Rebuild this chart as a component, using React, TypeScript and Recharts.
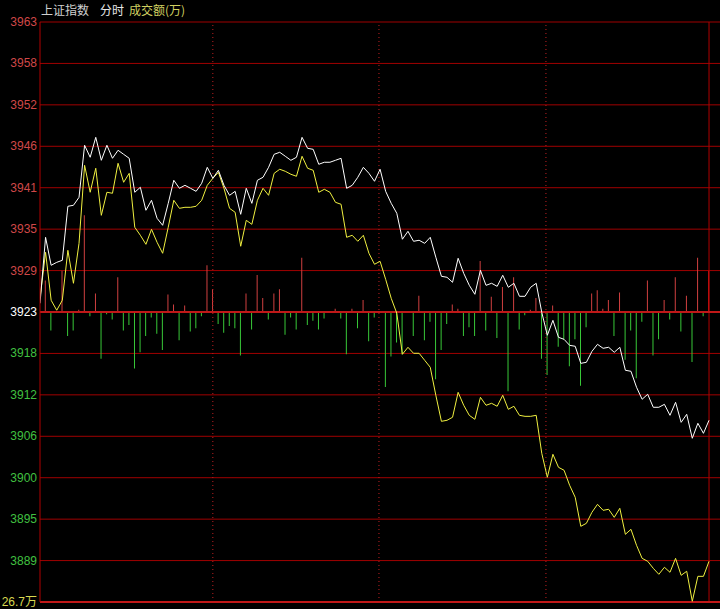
import React from "react";
import { ComposedChart, Line, Bar, Cell, XAxis, YAxis, CartesianGrid, ReferenceLine } from "recharts";

// 2-minute samples, 09:30 -> 15:00 (121 points)
const weightedIndex = [
  3924.55, 3933.68, 3929.81, 3930.22, 3930.5, 3937.97, 3938.11, 3939.21, 3946.41, 3944.75,
  3947.51, 3944.33, 3946.41, 3944.61, 3945.72, 3945.16, 3944.61, 3939.91, 3940.6, 3937.42,
  3938.8, 3936.31, 3935.34, 3938.38, 3941.57, 3940.46, 3940.87, 3940.46, 3940.04, 3941.15,
  3943.36, 3941.84, 3942.95, 3940.87, 3939.49, 3940.04, 3936.86, 3940.46, 3938.38, 3941.57,
  3941.98, 3943.36, 3945.16, 3945.44, 3944.89, 3944.33, 3944.75, 3947.51, 3945.99, 3945.85,
  3943.78, 3944.06, 3944.06, 3944.33, 3944.61, 3940.46, 3940.87, 3941.98, 3943.36, 3942.53,
  3941.43, 3943.09, 3940.04, 3938.38, 3937.0, 3933.41, 3934.51, 3933.13, 3933.27, 3932.85,
  3933.68, 3930.92, 3928.29, 3928.15, 3927.46, 3930.78, 3928.7, 3927.04, 3925.8, 3929.12,
  3927.04, 3927.32, 3926.9, 3928.43, 3926.77, 3927.32, 3925.52, 3925.52, 3926.77, 3927.32,
  3923.31, 3920.13, 3922.2, 3919.85, 3919.57, 3918.74, 3918.61, 3916.25, 3916.39, 3917.91,
  3918.88, 3918.33, 3918.47, 3917.78, 3918.47, 3915.29, 3915.15, 3912.94, 3911.28, 3911.97,
  3910.17, 3910.17, 3910.58, 3909.06, 3910.86, 3908.09, 3909.2, 3905.88, 3907.96, 3906.57,
  3908.37,
];

const equalIndex = [
  3925.24, 3931.61, 3924.97, 3923.59, 3924.97, 3931.88, 3927.32, 3932.85, 3943.64, 3939.91,
  3943.23, 3936.72, 3939.91, 3939.77, 3943.92, 3941.29, 3942.53, 3935.07, 3933.96, 3932.71,
  3934.79, 3932.99, 3931.47, 3935.07, 3938.8, 3937.69, 3937.83, 3937.83, 3937.97, 3938.8,
  3940.87, 3941.84, 3942.67, 3940.46, 3937.69, 3937.14, 3932.44, 3936.03, 3935.48, 3938.8,
  3940.46, 3939.49, 3942.53, 3943.09, 3942.81, 3942.4, 3942.12, 3944.89, 3943.23, 3942.95,
  3939.91, 3940.32, 3939.91, 3938.52, 3938.25, 3933.68, 3933.96, 3933.13, 3933.96, 3931.47,
  3929.95, 3930.36, 3927.87, 3925.24, 3923.17, 3917.5, 3918.47, 3917.64, 3917.64, 3916.67,
  3915.7, 3911.83, 3908.23, 3908.37, 3908.79, 3912.24, 3910.45, 3909.06, 3908.51, 3911.55,
  3910.45, 3910.72, 3910.31, 3911.83, 3909.89, 3910.31, 3909.06, 3908.92, 3908.92, 3909.06,
  3903.81, 3900.49, 3903.67, 3901.87, 3901.46, 3899.38, 3897.72, 3893.71, 3894.12, 3895.65,
  3896.75, 3895.92, 3896.06, 3894.95, 3896.2, 3892.6, 3893.29, 3891.08, 3889.28, 3888.87,
  3887.9, 3887.07, 3888.04, 3887.35, 3889.28, 3886.93, 3887.49, 3883.34, 3886.79, 3886.79,
  3888.87,
];

// 成交额 (万), up bars red, down bars green
const turnover = [
  0, 2.9, -1.7, 0, 3.8, -2.2, -1.7, 0.2, 8.9, -0.4,
  1.7, -4.3, -0.2, -0.7, 3.2, -1.7, -1.2, -5.2, -3.7, -2.2,
  -0.5, -2.0, -3.5, 1.6, 0.7, -2.6, 0.6, -1.8, -1.5, -0.4,
  4.3, 2.1, -1.1, -1.9, -1.3, -1.5, -4.0, 1.7, -1.6, 3.4,
  1.3, -0.7, 1.7, 2.1, -2.1, -0.5, -1.6, 5.0, -1.2, -0.8,
  -1.6, -0.6, 0, 0.3, -0.6, -3.9, 0.3, -1.5, 1.1, -2.7,
  -0.5, 0.1, -6.9, -4.1, -2.8, -3.9, 0, -2.2, 1.5, -2.6,
  -0.9, -6.2, -3.5, -1.1, 0.7, 0.3, -2.2, -1.4, -2.2, 4.7,
  -1.7, 1.4, -2.4, 2.3, -7.3, 3.2, -1.6, -0.3, 0.2, 1.3,
  -4.3, -5.8, 0.6, -3.2, -2.5, -5.0, -2.5, -6.8, -1.4, 1.7,
  2.0, 0.3, 1.1, -2.2, 1.8, -4.4, -1.7, -6.1, -0.9, 2.9,
  -4.0, -2.5, 1.1, -0.7, 3.2, -1.8, 1.5, -4.6, 5.0, -0.4,
  3.8,
];

const prevClose = 3923.35;
const priceStep = 5.73;
const priceTickLabels = [
  "3963", "3958", "3952", "3946", "3941", "3935", "3929", "3923",
  "3918", "3912", "3906", "3900", "3895", "3889", "26.7万",
];
const turnoverMax = 26.7;
const timeDividers = [31, 60.8, 90.75];

const priceTicks = priceTickLabels.map((_, k) => prevClose + priceStep * (7 - k));

const data = weightedIndex.map((w, i) => ({
  t: i,
  weighted: w,
  equal: equalIndex[i],
  turnover: turnover[i],
}));

const tickColor = (k: number) => {
  if (k === priceTickLabels.length - 1) return "#d8d850";
  if (k < 7) return "#d04848";
  if (k === 7) return "#ffffff";
  return "#40c040";
};

const PriceTick = (props: any) => {
  const { y, index } = props;
  return (
    <text x={37} y={y} dy={4} textAnchor="end" fill={tickColor(index)} fontSize={12}
      fontFamily="'Liberation Sans', 'Noto Sans CJK SC', sans-serif">
      {priceTickLabels[index]}
    </text>
  );
};

export default function App() {
  return (
    <div style={{ position: "absolute", left: 0, top: 0, width: 720, height: 609, background: "#000", overflow: "hidden" }}>
      <div style={{ position: "absolute", left: 41, top: 2, fontSize: 12, fontFamily: "'Noto Sans CJK SC', sans-serif", whiteSpace: "nowrap", lineHeight: "16px" }}>
        <span style={{ color: "#d0d0d0" }}>上证指数</span>
        <span style={{ color: "#e8e8e8", marginLeft: 11 }}>分时</span>
        <span style={{ color: "#d0d060", marginLeft: 5 }}>成交额(万)</span>
      </div>
      <ComposedChart width={720} height={609} data={data} margin={{ top: 22, right: 0, bottom: 7, left: 0 }}>
        <CartesianGrid vertical={false} stroke="#a00000" horizontalValues={priceTicks} />
        <XAxis dataKey="t" type="number" domain={[0, 121.97]} hide allowDataOverflow />
        <YAxis
          type="number"
          width={40}
          domain={[priceTicks[priceTicks.length - 1], priceTicks[0]]}
          ticks={priceTicks}
          interval={0}
          tick={<PriceTick />}
          tickLine={false}
          axisLine={{ stroke: "#b00000" }}
          allowDataOverflow
        />
        <YAxis yAxisId="vol" type="number" domain={[-turnoverMax, turnoverMax]} hide />
        {timeDividers.map((x) => (
          <ReferenceLine key={x} x={x} stroke="#c02020" strokeDasharray="1 3" />
        ))}
        <ReferenceLine x={120} stroke="#b00000" />
        <ReferenceLine y={prevClose} stroke="#c01818" strokeWidth={2} />
        <ReferenceLine y={priceTicks[priceTicks.length - 1]} stroke="#c01818" strokeWidth={2} />
        <Bar dataKey="turnover" yAxisId="vol" barSize={1} isAnimationActive={false}>
          {turnover.map((v, i) => (
            <Cell key={i} fill={i === turnover.length - 1 ? "#ff2020" : v >= 0 ? "#d04040" : "#38c838"} />
          ))}
        </Bar>
        <Line dataKey="equal" type="linear" stroke="#f0f040" strokeWidth={1} dot={false} isAnimationActive={false} />
        <Line dataKey="weighted" type="linear" stroke="#ffffff" strokeWidth={1} dot={false} isAnimationActive={false} />
      </ComposedChart>
    </div>
  );
}
